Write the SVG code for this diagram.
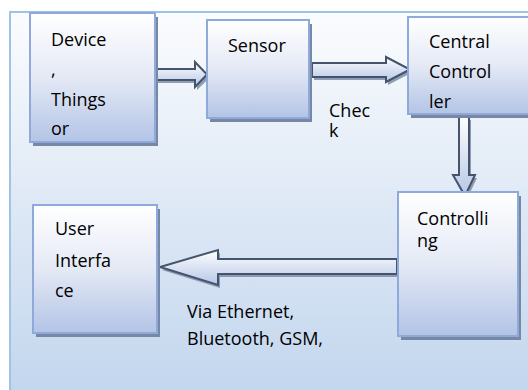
<svg xmlns="http://www.w3.org/2000/svg" width="528" height="390" viewBox="0 0 528 390">
<defs>
<linearGradient id="bg" x1="0" y1="0" x2="0" y2="1"><stop offset="0" stop-color="#fbfcfe"/><stop offset="1" stop-color="#c1d5ed"/></linearGradient>
<linearGradient id="box" x1="0" y1="0" x2="0" y2="1"><stop offset="0" stop-color="#ffffff"/><stop offset="0.5" stop-color="#e4e9f5"/><stop offset="1" stop-color="#b3c4e6"/></linearGradient>
<linearGradient id="arr" x1="0" y1="0" x2="0" y2="1"><stop offset="0" stop-color="#ffffff"/><stop offset="1" stop-color="#b6c6e6"/></linearGradient>
<style>
.frame{fill:url(#bg);stroke:#9dc3e6;stroke-width:2}
.box{fill:url(#box);stroke:#8eaadb;stroke-width:2}
.sh{fill:#7887a4}
.ar{fill:url(#arr);stroke:#44546a;stroke-width:2;stroke-linejoin:miter}
.ash{fill:#7887a4;opacity:0.8}
text{font-family:"Open Sans","Liberation Sans",sans-serif;font-size:18px;fill:#000}
</style>
</defs>
<rect class="frame" x="10" y="12" width="530" height="390"/>
<g id="connectors">
<polygon class="ash" points="158,72 197,72 197,65 210,77.5 197,90 197,83 158,83"/>
<polygon class="ar" points="156,69 195,69 195,62 207,74.5 195,87 195,80 156,80"/>
<polygon class="ash" points="314,66 388,66 388,60 412,72.5 388,85 388,80 314,80"/>
<polygon class="ar" points="312,63 386,63 386,57 410,69.5 386,82 386,77 312,77"/>
<polygon class="ash" points="461,120 471,120 471,178 477,178 467,199 455,178 461,178"/>
<polygon class="ar" points="459,117 469,117 469,175 475,175 465,196 453,175 459,175"/>
<polygon class="ash" points="399,262 220,262 220,253 162,270 220,288 220,277 399,277"/>
<polygon class="ar" points="397,259 218,259 218,250 160,267 218,285 218,274 397,274"/>
</g>
<g id="device">
<rect class="sh" x="33" y="17" width="125" height="129"/>
<rect class="box" x="30" y="13" width="125" height="129"/>
<text x="51" y="46">Device</text>
<text x="51" y="76">,</text>
<text x="51" y="106">Things</text>
<text x="51" y="135">or</text>
</g>
<g id="sensor">
<rect class="sh" x="210" y="24" width="102" height="98"/>
<rect class="box" x="207" y="20" width="102" height="98"/>
<text x="228" y="52">Sensor</text>
</g>
<g id="central">
<rect class="sh" x="411" y="21" width="130" height="97"/>
<rect class="box" x="408" y="17" width="130" height="97"/>
<text x="429" y="48">Central</text>
<text x="429" y="78">Control</text>
<text x="429" y="108">ler</text>
</g>
<g id="check">
<text x="329" y="117">Chec</text>
<text x="329" y="137">k</text>
</g>
<g id="controlling">
<rect class="sh" x="401" y="196" width="120" height="144"/>
<rect class="box" x="398" y="192" width="120" height="144"/>
<text x="417" y="225">Controlli</text>
<text x="417" y="247">ng</text>
</g>
<g id="user">
<rect class="sh" x="36" y="209" width="124" height="128"/>
<rect class="box" x="33" y="205" width="124" height="128"/>
<text x="55" y="235">User</text>
<text x="55" y="267">Interfa</text>
<text x="55" y="297">ce</text>
</g>
<g id="via">
<text x="187" y="318">Via Ethernet,</text>
<text x="187" y="345">Bluetooth, GSM,</text>
</g>
</svg>
